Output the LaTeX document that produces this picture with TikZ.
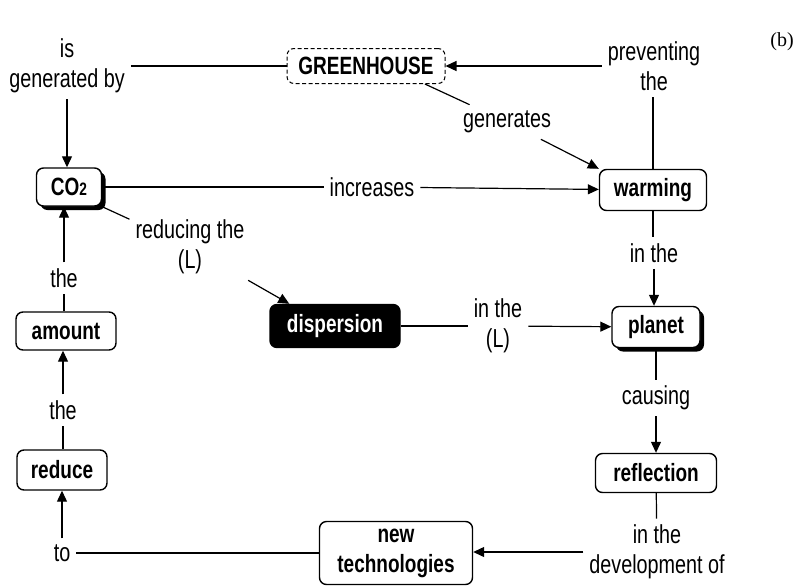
\documentclass[tikz,border=0pt]{standalone}
\usepackage{fontspec}
\setmainfont{Liberation Sans}[FakeStretch=0.76]
\newfontfamily\serifb{Liberation Serif}
\usetikzlibrary{arrows.meta,shadows,calc}
\begin{document}
\begin{tikzpicture}[x=1pt,y=-1pt,
 every node/.style={font=\fontsize{26}{30}\selectfont},
 box/.style={draw, line width=1.4pt, rounded corners=7pt, font=\bfseries\fontsize{25}{30}\selectfont, inner sep=0pt, align=center},
 lab/.style={align=center, inner sep=6pt},
 ln/.style={line width=1.2pt},
 ar/.style={line width=1.2pt, -{Triangle[length=11pt,width=10pt]}},
 shad/.style={drop shadow={shadow xshift=4pt, shadow yshift=-4pt, fill=black, opacity=1}},
]
\path[use as bounding box, fill=white] (0,0) rectangle (808,587);

% concept boxes
\node[box, dash pattern=on 4pt off 2.5pt, line width=1pt, fill=white, minimum width=158, minimum height=35] (gh) at (366,66) {GREENHOUSE};
\node[box, shad, fill=white, minimum width=65, minimum height=38] (co2) at (69,187) {CO{\fontsize{18}{18}\selectfont 2}};
\node[box, fill=white, minimum width=107, minimum height=41] (warm) at (653,190) {warming};
\node[box, fill=black, text=white, minimum width=130, minimum height=43] (disp) at (335,326) {dispersion};
\node[box, shad, fill=white, minimum width=88, minimum height=41] (planet) at (656,327) {planet};
\node[box, fill=white, minimum width=121, minimum height=39] (refl) at (656,473) {reflection};
\node[box, fill=white, minimum width=153, minimum height=63] (newt) at (396,553) {new\\technologies};
\node[box, fill=white, minimum width=90, minimum height=40] (reduce) at (62,470) {reduce};
\node[box, fill=white, minimum width=100, minimum height=38] (amount) at (66,331) {amount};

% linking phrases
\node[lab] (isgen) at (67,66) {is\\generated by};
\node[lab] (prev) at (654,66) {preventing\\the};
\node[lab] (gen) at (507,122) {generates};
\node[lab] (incr) at (372,187) {increases};
\node[lab] (red) at (190,247) {reducing the\\(L)};
\node[lab] (inL) at (498,326) {in the\\(L)};
\node[lab] (inthe) at (654,253) {in the};
\node[lab] (caus) at (656,398) {causing};
\node[lab] (dev) at (657,552) {in the\\development of};
\node[lab] (to) at (62,553) {to};
\node[lab] (the2) at (63,410) {the};
\node[lab] (the1) at (64,278) {the};

\node[font=\serifb\fontsize{20}{20}\selectfont] (b) at (782,42) {(b)};

% connectors
\draw[ln] (isgen) -- (gh);
\draw[ar] (isgen) -- (isgen |- co2.north);
\draw[ln] (co2) -- (incr);
\draw[ar] (incr) -- (warm);
\draw[ln] (warm.north) -- (warm.north |- prev.south);
\draw[ar] (prev) -- (gh);
\draw[ln] (gh.-17) -- (gen);
\draw[ar] (gen) -- (warm.north west);
\draw[ln] (warm.south) -- (warm.south |- inthe.north);
\draw[ar] (inthe) -- (inthe |- planet.north);
\draw[ln] (planet) -- (caus);
\draw[ar] (caus) -- (refl);
\draw[ln] (refl) -- (dev);
\draw[ar] (dev) -- (dev -| newt.east);
\draw[ln] (newt) -- (to);
\draw[ar] (to) -- (to |- reduce.south);
\draw[ln] (the2 |- reduce.north) -- (the2);
\draw[ar] (the2) -- (the2 |- amount.south);
\draw[ln] (the1 |- amount.north) -- (the1);
\draw[ar] (the1) -- (the1 |- co2.south);
\draw[ln] (co2.south east) -- (red);
\draw[ar] (red) -- ($(disp.north west)+(20,0)$);
\draw[ln] (disp) -- (inL);
\draw[ar] (inL) -- (planet);
\end{tikzpicture}
\end{document}
